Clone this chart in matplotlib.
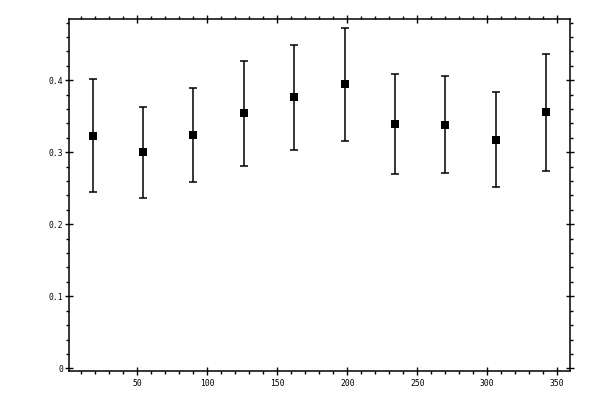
import numpy as np
import matplotlib
matplotlib.use('Agg')
import matplotlib.pyplot as plt
from matplotlib.ticker import MultipleLocator

# bin centres and measured values
x = np.array([18, 54, 90, 126, 162, 198, 234, 270, 306, 342])
y = np.array([0.3226, 0.3000, 0.3240, 0.3542, 0.3764, 0.3944, 0.3389, 0.3375, 0.3167, 0.3556])
y_low = np.array([0.2449, 0.2361, 0.2583, 0.2806, 0.3028, 0.3153, 0.2694, 0.2708, 0.2514, 0.2736])
y_high = np.array([0.4014, 0.3625, 0.3889, 0.4264, 0.4486, 0.4722, 0.4088, 0.4056, 0.3838, 0.4361])

fig = plt.figure(figsize=(6, 4), dpi=100)
ax = fig.add_axes([0.1155, 0.0733, 0.835, 0.8785])

yerr = np.vstack([y - y_low, y_high - y])
ax.errorbar(x, y, yerr=yerr, fmt='none', ecolor='black',
            elinewidth=1.1, capsize=2.6, capthick=1.1)
ax.plot(x, y, 's', color='black', ms=5.6, markeredgewidth=0)

ax.set_xlim(1.4, 359.3)
ax.set_ylim(-0.0033, 0.4847)

ax.xaxis.set_major_locator(MultipleLocator(50))
ax.xaxis.set_minor_locator(MultipleLocator(10))
ax.yaxis.set_major_locator(MultipleLocator(0.1))
ax.yaxis.set_minor_locator(MultipleLocator(0.02))
ax.set_yticks([0, 0.1, 0.2, 0.3, 0.4])
ax.set_yticklabels(['0', '0.1', '0.2', '0.3', '0.4'])
ax.set_xticks([50, 100, 150, 200, 250, 300, 350])

ax.tick_params(which='major', direction='inout', length=5.8, width=1.0,
               top=True, right=True, labelsize=5.8, pad=1.5)
ax.tick_params(which='minor', direction='out', length=2.2, width=1.0,
               top=True, right=True)
ax.tick_params(axis='x', which='major', pad=3)
for lab in ax.get_xticklabels() + ax.get_yticklabels():
    lab.set_family('DejaVu Sans Mono')
for sp in ax.spines.values():
    sp.set_linewidth(1.1)

plt.savefig('out.png', dpi=100)
